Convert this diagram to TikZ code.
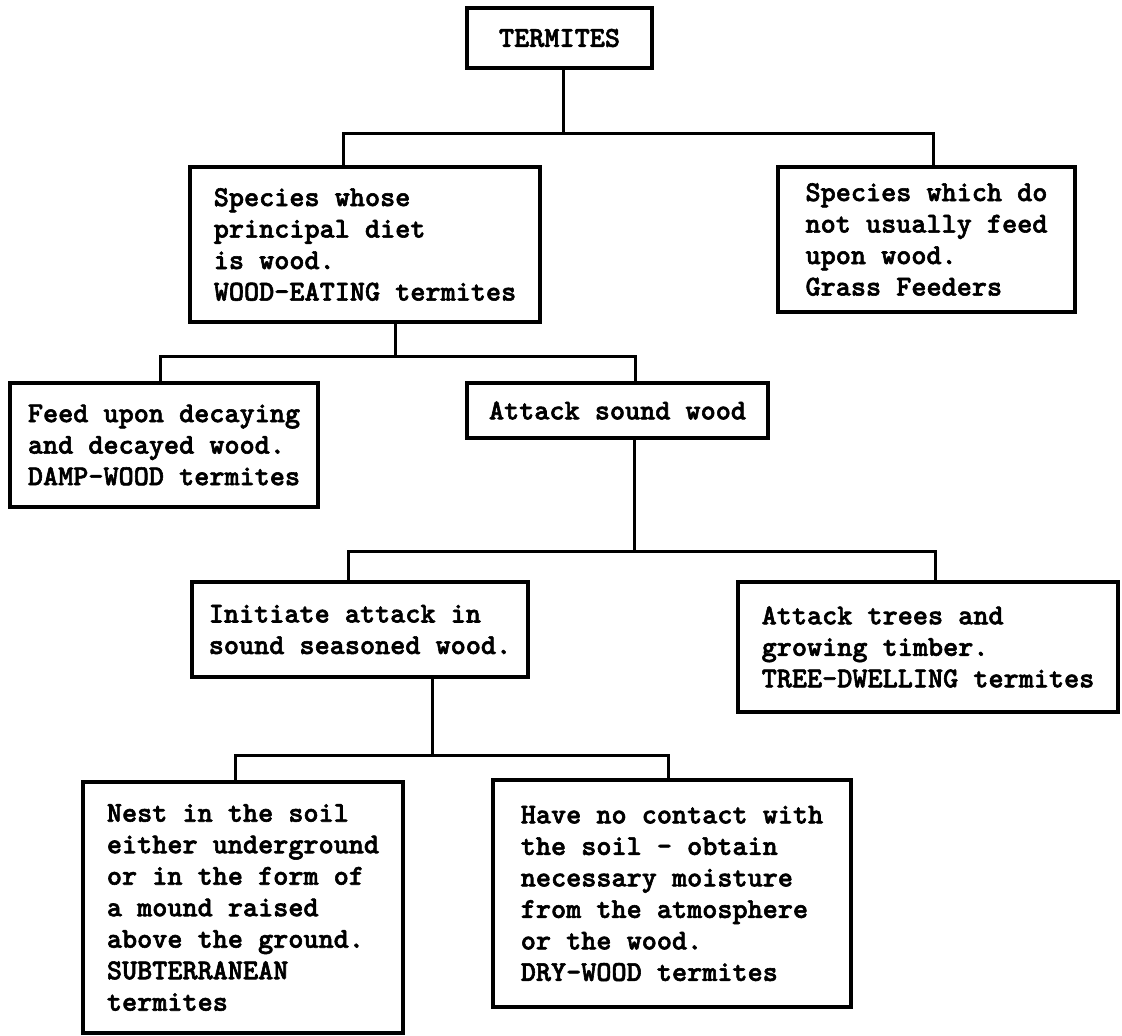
\documentclass[tikz,border=0pt]{standalone}
\usepackage{fontspec}
\setmonofont{lmmono10-regular.otf}[BoldFont=lmmonolt10-bold.otf, BoldFeatures={FakeBold=2}]
\usepackage{tikz}
\usetikzlibrary{positioning}

\begin{document}
\begin{tikzpicture}[
                x=1pt, y=-1pt,
                every node/.style={font=\fontsize{28.8}{31.5}\selectfont\ttfamily\bfseries},
                block/.style={rectangle, draw, line width=3.2pt, inner sep=0pt, align=left},
                line/.style={draw, line width=3pt}
            ]
            \useasboundingbox (0,0) rectangle (1122,1036);

            % Nodes
            \node (termites) at (559.5,38) [block, minimum width=185pt, minimum height=60pt] {TERMITES};
            \node (wood) at (365,244.5) [block, minimum width=350pt, minimum height=155pt] {Species whose\\principal diet\\is wood.\\WOOD-EATING termites};
            \node (grass) at (926.5,239.5) [block, minimum width=297pt, minimum height=145pt] {Species which do\\not usually feed\\upon wood.\\Grass Feeders};
            \node (damp) at (164,445) [block, minimum width=308pt, minimum height=124pt] {Feed upon decaying\\and decayed wood.\\DAMP-WOOD termites};
            \node (attack) at (617.5,410.5) [block, minimum width=301pt, minimum height=55pt] {Attack sound wood};
            \node (initiate) at (360,629.5) [block, minimum width=336pt, minimum height=95pt] {Initiate attack in\\sound seasoned wood.};
            \node (trees) at (928,647) [block, minimum width=380pt, minimum height=130pt] {Attack trees and\\growing timber.\\TREE-DWELLING termites};
            \node (nest) at (243,907.5) [block, minimum width=320pt, minimum height=251pt] {Nest in the soil\\either underground\\or in the form of\\a mound raised\\above the ground.\\SUBTERRANEAN\\termites};
            \node (dry) at (672,893.5) [block, minimum width=358pt, minimum height=227pt] {Have no contact with\\the soil - obtain\\necessary moisture\\from the atmosphere\\or the wood.\\DRY-WOOD termites};

            % Junctions
            \coordinate (j1) at (563,133);
            \coordinate (j2) at (395,356);
            \coordinate (j3) at (634,551);
            \coordinate (j4) at (432,755);

            % Lines
            \draw[line] (termites.south -| j1) -- (j1);
            \draw[line] ([xshift=-22pt]wood.north) |- (j1) -| ([xshift=6.5pt]grass.north);
            \draw[line] ([xshift=30pt]wood.south) -- (j2);
            \draw[line] ([xshift=-4pt]damp.north) |- (j2) -| ([xshift=17.5pt]attack.north);
            \draw[line] ([xshift=16.5pt]attack.south) -- (j3);
            \draw[line] ([xshift=-12pt]initiate.north) |- (j3) -| ([xshift=7pt]trees.north);
            \draw[line] ([xshift=72pt]initiate.south) -- (j4);
            \draw[line] ([xshift=-8pt]nest.north) |- (j4) -| ([xshift=-4pt]dry.north);

\end{tikzpicture}
\end{document}
